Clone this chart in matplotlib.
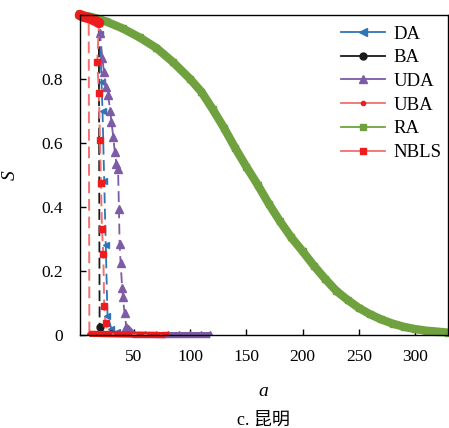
import matplotlib.pyplot as plt
from matplotlib.lines import Line2D

plt.rcParams['font.family'] = ['Liberation Serif', 'Noto Sans CJK SC']
plt.rcParams['mathtext.fontset'] = 'stix'

# survival curves S(a) per attack strategy
DA_a = [1, 8, 15, 19, 19.8, 21.2, 22.1, 23.6, 25, 26.5, 30, 35, 40]
DA_s = [1.0, 0.998, 0.995, 0.99, 0.94, 0.79, 0.70, 0.48, 0.28, 0.06, 0.02, 0.01, 0.005]

BA_a = [1, 8, 15, 18.8, 19.5, 22, 30]
BA_s = [1.0, 0.998, 0.995, 0.99, 0.026, 0.005, 0.002]

UDA_a = [1, 8, 15, 19, 19.8, 22, 23.3, 25, 27, 29, 30, 31.6, 33, 34.4, 35.9, 36.7,
         37.3, 38.2, 39.6, 40.2, 41.7, 43.2, 50, 60, 70, 80, 90, 100, 110, 118]
UDA_s = [1.0, 0.998, 0.995, 0.99, 0.943, 0.865, 0.823, 0.776, 0.75, 0.70, 0.667, 0.62,
         0.573, 0.536, 0.52, 0.395, 0.286, 0.224, 0.146, 0.12, 0.068, 0.026, 0.0, 0.0,
         0.0, 0.0, 0.0, 0.0, 0.0, 0.0]

UBA_a = [1, 5, 9.8, 10.4, 15, 25, 40, 60, 78]
UBA_s = [1.0, 0.998, 0.995, 0.004, 0.004, 0.003, 0.002, 0.001, 0.0]

RA_a = [2, 11, 25, 40, 55, 70, 85, 100, 110, 120, 130, 140, 150, 160, 170, 180, 190,
        200, 210, 220, 230, 240, 250, 260, 270, 280, 290, 300, 310, 320, 329]
RA_s = [1.0, 0.995, 0.98, 0.958, 0.93, 0.897, 0.852, 0.80, 0.76, 0.706, 0.648, 0.585,
        0.526, 0.47, 0.41, 0.355, 0.305, 0.262, 0.217, 0.176, 0.138, 0.11, 0.085,
        0.065, 0.049, 0.036, 0.026, 0.019, 0.014, 0.011, 0.008]

NBLS_a = [2, 5, 10, 15, 19, 17.4, 18.9, 19.8, 20.7, 21.6, 22.8, 23.6, 24.8, 27, 35, 45,
          55, 65, 78]
NBLS_s = [1.0, 0.995, 0.99, 0.983, 0.975, 0.854, 0.755, 0.611, 0.476, 0.330, 0.253,
          0.091, 0.038, 0.004, 0.002, 0.001, 0.001, 0.0, 0.0]

c_da = '#2F75B5'
c_ba = '#1a1a1a'
c_uda = '#7D5BA6'
c_red_line = '#F27070'
c_red = '#EE1C1C'
c_ra = '#6FA23E'

fig = plt.figure(figsize=(4.49, 4.28), dpi=100)
ax = fig.add_axes([0.178, 0.217, 0.819, 0.748])

dash = (0, (6, 3))

ax.plot(DA_a, DA_s, color=c_da, ls=dash, lw=1.3, marker='<', ms=5)
ax.plot(DA_a[:4], DA_s[:4], color=c_da, lw=4, clip_on=False)

ax.plot(BA_a, BA_s, color=c_ba, ls=dash, lw=1.3, marker='o', ms=5)

ax.plot(UDA_a, UDA_s, color=c_uda, ls=dash, lw=1.3, marker='^', ms=6)
ax.plot(UDA_a[21:], UDA_s[21:], color=c_uda, lw=4.5, clip_on=False,
        solid_capstyle='butt')

ax.plot(UBA_a, UBA_s, color=c_red_line, ls=dash, lw=1.4, marker='.', ms=5,
        mfc=c_red, mec=c_red)
ax.plot(UBA_a[3:], UBA_s[3:], color=c_red, lw=4.5, clip_on=False,
        solid_capstyle='butt')

ax.plot(RA_a, RA_s, color=c_ra, lw=6, marker='s', ms=4, clip_on=False)

ax.plot(NBLS_a, NBLS_s, color=c_red_line, ls=dash, lw=1.4, marker='s', ms=5,
        mfc=c_red, mec=c_red)
ax.plot(NBLS_a[:5], NBLS_s[:5], color=c_red, lw=7.5, solid_capstyle='round',
        clip_on=False)

ax.set_xlim(2, 329)
ax.set_ylim(0, 1.0)
ax.set_xticks([50, 100, 150, 200, 250, 300])
ax.set_yticks([0, 0.2, 0.4, 0.6, 0.8])
ax.set_yticklabels(['0', '0.2', '0.4', '0.6', '0.8'])
ax.tick_params(direction='in', labelsize=12.5, length=4, width=1)
ax.tick_params(axis='x', pad=10)
ax.tick_params(axis='y', pad=12)
for sp in ax.spines.values():
    sp.set_linewidth(1.0)

ax.set_xlabel('a', fontsize=14, fontstyle='italic', labelpad=13)
ax.set_ylabel('S', fontsize=14, fontstyle='italic')
ax.yaxis.set_label_coords(-0.165, 0.5)

handles = [
    Line2D([], [], color=c_da, marker='<', ms=6, lw=1.3),
    Line2D([], [], color=c_ba, marker='o', ms=5, lw=1.3),
    Line2D([], [], color=c_uda, marker='^', ms=6, lw=1.3),
    Line2D([], [], color=c_red_line, marker='.', ms=6, lw=1.3, mfc=c_red, mec=c_red),
    Line2D([], [], color=c_ra, marker='s', ms=5, lw=1.3),
    Line2D([], [], color=c_red_line, marker='s', ms=5, lw=1.3, mfc=c_red, mec=c_red),
]
ax.legend(handles, ['DA', 'BA', 'UDA', 'UBA', 'RA', 'NBLS'], loc='upper right',
          bbox_to_anchor=(1.02, 1.008), frameon=False, fontsize=13.5,
          handlelength=2.3, labelspacing=0.35, borderaxespad=0.3, handletextpad=0.5)

fig.text(0.587, 0.008, 'c. 昆明', ha='center', fontsize=13)

fig.savefig('out.png', dpi=100)
